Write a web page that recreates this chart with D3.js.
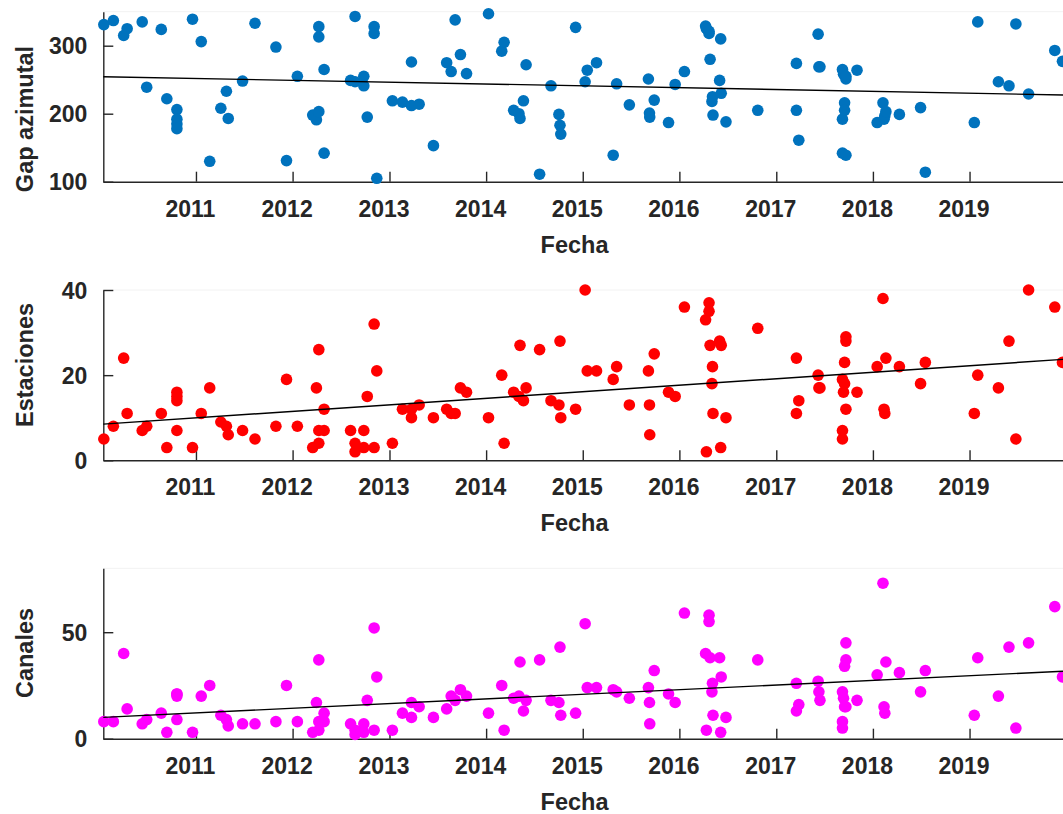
<!DOCTYPE html>
<html>
<head>
<meta charset="utf-8">
<script src="https://cdn.jsdelivr.net/npm/d3@7"></script>
<style>
  body { margin: 0; background: #fff; }
  svg text {
    font-family: "Liberation Sans", Arial, Helvetica, sans-serif;
    font-weight: bold;
    fill: #262626;
  }
</style>
</head>
<body>
<div id="chart"></div>
<script>
// Fechas de los eventos (compartidas por los tres paneles)
const fechas = [
  "2010-01-18", "2010-02-23", "2010-04-03", "2010-04-16", "2010-06-12", "2010-06-29",
  "2010-08-23", "2010-09-13", "2010-10-21", "2010-10-21", "2010-10-21", "2010-10-21",
  "2010-12-19", "2011-01-21", "2011-02-22", "2011-04-05", "2011-04-26", "2011-05-03",
  "2011-06-26", "2011-08-12", "2011-10-30", "2011-12-09", "2012-01-19", "2012-03-17",
  "2012-03-31", "2012-04-09", "2012-04-09", "2012-04-09", "2012-04-29", "2012-04-29",
  "2012-08-07", "2012-08-24", "2012-08-24", "2012-09-26", "2012-09-26", "2012-10-09",
  "2012-11-04", "2012-11-04", "2012-11-14", "2013-01-12", "2013-02-19", "2013-03-25",
  "2013-03-25", "2013-04-23", "2013-06-16", "2013-08-05", "2013-08-22", "2013-09-06",
  "2013-09-26", "2013-10-19", "2014-01-10", "2014-03-01", "2014-03-10", "2014-04-15",
  "2014-05-05", "2014-05-09", "2014-05-22", "2014-06-01", "2014-07-22", "2014-09-03",
  "2014-10-03", "2014-10-07", "2014-10-10", "2014-12-05", "2015-01-10", "2015-01-18",
  "2015-02-22", "2015-04-26", "2015-05-09", "2015-06-26", "2015-09-06", "2015-09-10",
  "2015-09-11", "2015-09-28", "2015-11-21", "2015-12-16", "2016-01-20", "2016-04-09",
  "2016-04-12", "2016-04-22", "2016-04-22", "2016-04-26", "2016-05-03", "2016-05-05",
  "2016-05-07", "2016-06-01", "2016-06-05", "2016-06-07", "2016-06-25", "2016-10-23",
  "2017-03-18", "2017-03-18", "2017-03-27", "2017-06-08", "2017-06-11", "2017-06-15",
  "2017-09-08", "2017-09-08", "2017-09-08", "2017-09-12", "2017-09-16", "2017-09-16",
  "2017-09-21", "2017-09-21", "2017-09-21", "2017-11-02", "2018-01-17", "2018-02-08",
  "2018-02-12", "2018-02-15", "2018-02-19", "2018-04-11", "2018-06-30", "2018-07-18",
  "2019-01-19", "2019-02-01", "2019-04-20", "2019-05-30", "2019-06-25", "2019-08-12",
  "2019-11-19", "2019-12-18"
];

const gapAzimutal = [
  331, 337, 315, 325, 335, 239, 324, 222, 206, 192, 185, 178,
  339, 306, 130, 208, 233, 193, 248, 333, 298, 131, 255, 198,
  191, 328, 313, 203, 265, 142, 249, 343, 247, 255, 241, 195,
  328, 318, 105, 219, 217, 276, 212, 214, 153, 275, 262, 338,
  287, 259, 347, 292, 305, 205, 200, 193, 219, 272, 111, 241,
  199, 183, 170, 327, 247, 264, 275, 139, 244, 213, 251, 201,
  195, 220, 187, 243, 262, 329, 325, 318, 321, 280, 218, 225,
  198, 249, 310, 230, 188, 205, 274, 205, 161, 317, 269, 269,
  265, 192, 142, 258, 216, 205, 251, 139, 255, 264, 187, 216,
  192, 197, 203, 199, 209, 114, 187, 335, 247, 241, 332, 229,
  293, 277
];

const estaciones = [
  5, 8, 24, 11, 7, 8, 11, 3, 16, 15, 14, 7,
  3, 11, 17, 9, 8, 6, 7, 5, 8, 19, 8, 3,
  17, 26, 4, 7, 12, 7, 7, 4, 2, 7, 3, 15,
  32, 3, 21, 4, 12, 12, 10, 13, 10, 12, 11, 11,
  17, 16, 10, 20, 4, 16, 15, 27, 14, 17, 26, 14,
  13, 28, 10, 12, 40, 21, 21, 19, 22, 13, 21, 13,
  6, 25, 16, 15, 36, 33, 2, 35, 37, 27, 18, 22,
  11, 28, 3, 27, 10, 31, 24, 11, 14, 20, 17, 17,
  19, 7, 5, 16, 23, 18, 29, 28, 12, 16, 22, 38,
  12, 11, 24, 22, 18, 23, 11, 20, 17, 28, 5, 40,
  36, 23
];

const canales = [
  8, 8, 40, 14, 7, 9, 12, 3, 21, 21, 20, 9,
  3, 20, 25, 11, 9, 6, 7, 7, 8, 25, 8, 3,
  17, 37, 4, 8, 12, 8, 7, 4, 2, 7, 3, 18,
  52, 4, 29, 4, 12, 17, 10, 15, 10, 14, 20, 18,
  23, 20, 12, 25, 4, 19, 20, 36, 13, 18, 37, 18,
  17, 43, 11, 12, 54, 24, 24, 23, 22, 19, 24, 17,
  7, 32, 21, 17, 59, 40, 4, 58, 55, 38, 22, 26,
  11, 38, 3, 29, 10, 37, 26, 13, 16, 27, 22, 18,
  22, 8, 5, 19, 34, 15, 45, 37, 15, 18, 30, 73,
  15, 12, 36, 31, 22, 32, 11, 38, 20, 43, 5, 45,
  62, 29
];

// Límites del eje x y ticks
const xLimits = ["2010-01-16", "2019-12-20"];
const yearTicks = [2011, 2012, 2013, 2014, 2015, 2016, 2017, 2018, 2019];

// Rectas de tendencia (valor en cada extremo del eje x)
const gapTrend = [254.4, 227.5];
const estTrend = [8.5, 23.7];
const canTrend = [10.0, 31.7];

const gapTicks = [100, 200, 300];
const estTicks = [0, 20, 40];
const canTicks = [0, 50];

(function () {
  const W = 1063, H = 814;
  const parse = d3.timeParse("%Y-%m-%d");
  const dates = fechas.map(parse);
  const axisColor = "#262626";

  const svg = d3.select("#chart").append("svg")
    .attr("width", W)
    .attr("height", H);

  const x = d3.scaleTime()
    .domain(xLimits.map(parse))
    .range([103.3, 1063]);

  function drawPanel(p) {
    const y = d3.scaleLinear()
      .domain(p.domain)
      .range([p.bottom, p.top]);

    const g = svg.append("g");

    // línea superior muy tenue
    g.append("line")
      .attr("x1", x.range()[0]).attr("x2", x.range()[1])
      .attr("y1", p.top).attr("y2", p.top)
      .attr("stroke", "#f2f2f2")
      .attr("stroke-width", 1);

    // ===== Ejes =====
    const gx = g.append("g")
      .attr("transform", `translate(0,${p.bottom})`)
      .call(
        d3.axisBottom(x)
          .tickValues(yearTicks.map(yr => new Date(yr, 0, 1)))
          .tickFormat(d3.timeFormat("%Y"))
          .tickSizeInner(-10)
          .tickSizeOuter(0)
      );
    gx.selectAll("text")
      .attr("y", 35)
      .attr("dy", null)
      .attr("dx", -6)
      .style("font-size", "23px");

    const gy = g.append("g")
      .attr("transform", `translate(${x.range()[0]},0)`)
      .call(
        d3.axisLeft(y)
          .tickValues(p.ticks)
          .tickSizeInner(-10)
          .tickSizeOuter(0)
      );
    gy.selectAll("text")
      .attr("x", -16)
      .attr("dy", "0.36em")
      .style("font-size", "23px");

    [gx, gy].forEach(a => {
      a.select(".domain").attr("stroke", axisColor).attr("stroke-width", 1.4);
      a.selectAll(".tick line").attr("stroke", axisColor).attr("stroke-width", 1.4);
      a.selectAll("text").attr("fill", axisColor);
    });

    // ===== Puntos =====
    g.selectAll(".pt")
      .data(p.values.map((v, i) => ({ date: dates[i], v })))
      .enter().append("circle")
        .attr("class", "pt")
        .attr("cx", d => x(d.date))
        .attr("cy", d => y(d.v))
        .attr("r", 5.8)
        .attr("fill", p.color);

    // ===== Tendencia =====
    const line = d3.line()
      .x(d => x(d[0]))
      .y(d => y(d[1]));
    g.append("path")
      .datum(xLimits.map((s, i) => [parse(s), p.trend[i]]))
      .attr("d", line)
      .attr("fill", "none")
      .attr("stroke", "#000")
      .attr("stroke-width", 1.4);

    // ===== Títulos de ejes =====
    g.append("text")
      .attr("transform", `translate(33,${p.labelY}) rotate(-90)`)
      .attr("text-anchor", "middle")
      .style("font-size", "23.5px")
      .text(p.ylabel);

    g.append("text")
      .attr("x", 574.5)
      .attr("y", p.bottom + 71)
      .attr("text-anchor", "middle")
      .style("font-size", "23.5px")
      .text("Fecha");
  }

  drawPanel({ values: gapAzimutal, trend: gapTrend, ticks: gapTicks, domain: [100, 350],
              top: 11.7, bottom: 181.7, color: "#0072BD", ylabel: "Gap azimutal", labelY: 119 });
  drawPanel({ values: estaciones, trend: estTrend, ticks: estTicks, domain: [0, 40],
              top: 290, bottom: 460.3, color: "#FF0000", ylabel: "Estaciones", labelY: 365 });
  drawPanel({ values: canales, trend: canTrend, ticks: canTicks, domain: [0, 80],
              top: 568.3, bottom: 738.7, color: "#FF00FF", ylabel: "Canales", labelY: 653 });
})();
</script>
</body>
</html>
